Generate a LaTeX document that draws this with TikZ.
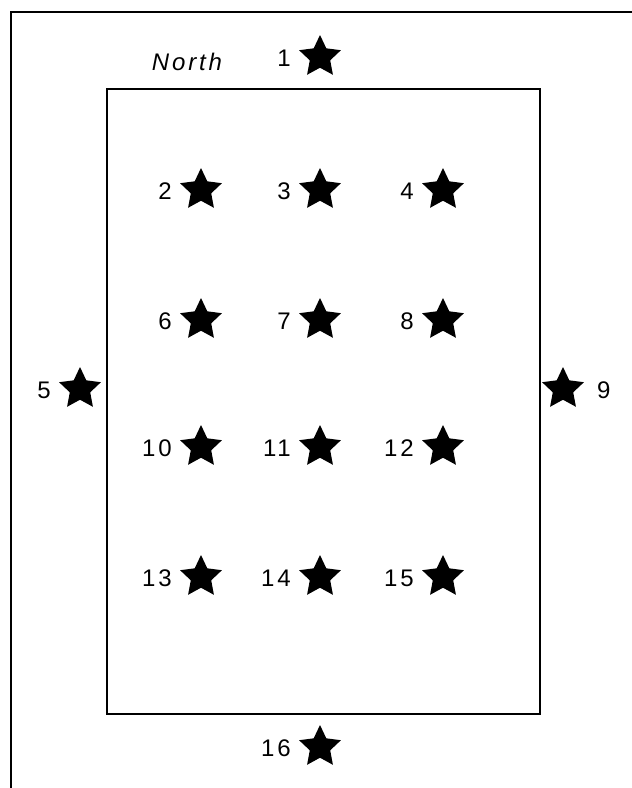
\documentclass[tikz,border=0pt]{standalone}
\usepackage{fontspec}
\setmainfont{Liberation Sans}
\newfontfamily\lblfont[LetterSpace=12]{Liberation Sans}
\usetikzlibrary{shapes.geometric,calc}
\tikzset{
  starmark/.style={star, star points=5, star point ratio=2.05, fill=black, draw=none, inner sep=0pt, minimum size=44pt},
  lbl/.style={font=\lblfont\fontsize{24}{24}\selectfont, inner sep=0pt},
  frame/.style={line width=1.5pt, black},
  field/.style={draw, line width=2pt, inner sep=0pt, minimum width=433pt, minimum height=625pt}
}
\newcommand{\starL}[4]{%
  \node[starmark] (s#1) at (#2,#3) {};
  \node[lbl, anchor=east] (l#1) at ($(s#1)+(-29,1)$) {#4};}
\begin{document}
\begin{tikzpicture}[x=1pt,y=-1pt]
\useasboundingbox (0,0) rectangle (632,788);
\fill[white] (0,0) rectangle (632,788);
\coordinate (fa) at (11,788);
\coordinate (fb) at (11,12);
\coordinate (fc) at (632,12);
\draw[frame] (fa) -- (fb) -- (fc);
\node[field] (box) at (323.5,401.5) {};
\node[lbl, font=\lblfont\fontsize{24}{24}\selectfont\itshape] (north) at (187,62) {North};
\starL{1}{320}{57}{1}
\starL{2}{201}{190}{2}
\starL{3}{320}{190}{3}
\starL{4}{443}{190}{4}
\starL{6}{201}{320}{6}
\starL{7}{320}{320}{7}
\starL{8}{443}{320}{8}
\starL{10}{201}{447}{10}
\starL{11}{320}{447}{11}
\starL{12}{443}{447}{12}
\starL{13}{201}{577}{13}
\starL{14}{320}{577}{14}
\starL{15}{443}{577}{15}
\starL{16}{320}{747}{16}
\starL{5}{80}{389}{5}
\node[starmark] (s9) at (563,389) {};
\node[lbl, anchor=west] (l9) at ($(s9)+(34,1)$) {9};
\end{tikzpicture}
\end{document}
